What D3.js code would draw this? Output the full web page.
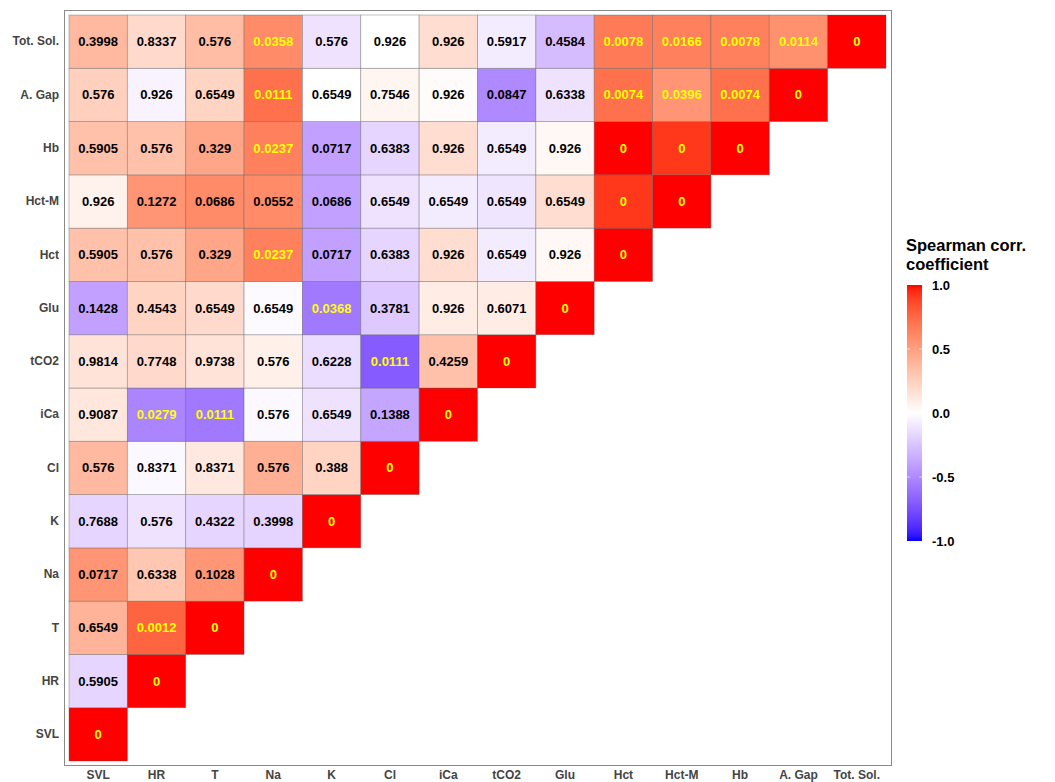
<!DOCTYPE html>
<html>
<head>
<meta charset="utf-8">
<script src="https://cdn.jsdelivr.net/npm/d3@7"></script>
<style>
  body { margin: 0; background: #fff; }
  text { font-family: "Liberation Sans", Arial, sans-serif; }
</style>
</head>
<body>
<div id="chart"></div>
<script>
// variables, bottom-left (SVL) to top-right (Tot. Sol.)
var variables = ["SVL", "HR", "T", "Na", "K", "Cl", "iCa", "tCO2", "Glu",
                 "Hct", "Hct-M", "Hb", "A. Gap", "Tot. Sol."];

// Spearman rho, row i = variable i vs variables 0..i
var rhoRows = [
  [1],
  [-0.17, 1],
  [0.40, 0.77, 1],
  [0.55, 0.30, 0.54, 1],
  [-0.17, -0.12, -0.17, -0.18, 1],
  [0.37, -0.03, 0.12, 0.42, 0.23, 1],
  [0.13, -0.52, -0.57, -0.03, -0.12, -0.38, 1],
  [0.15, 0.20, 0.15, 0.08, -0.14, -0.70, 0.33, 1],
  [-0.40, 0.23, 0.20, -0.02, -0.57, -0.23, 0.10, 0.10, 1],
  [0.33, 0.33, 0.47, 0.65, -0.40, -0.17, 0.18, -0.08, 0.04, 1],
  [0.07, 0.55, 0.60, 0.60, -0.40, -0.12, -0.08, -0.11, 0.18, 0.92, 1],
  [0.33, 0.33, 0.47, 0.65, -0.40, -0.17, 0.18, -0.08, 0.04, 1, 0.92, 1],
  [0.25, -0.05, 0.23, 0.72, 0.00, 0.05, 0.02, -0.50, -0.12, 0.72, 0.55, 0.72, 1],
  [0.37, 0.20, 0.35, 0.60, -0.12, 0.00, 0.18, -0.08, -0.28, 0.67, 0.65, 0.65, 0.57, 1]
];

// p-values printed in the cells
var pRows = [
  [0],
  [0.5905, 0],
  [0.6549, 0.0012, 0],
  [0.0717, 0.6338, 0.1028, 0],
  [0.7688, 0.576, 0.4322, 0.3998, 0],
  [0.576, 0.8371, 0.8371, 0.576, 0.388, 0],
  [0.9087, 0.0279, 0.0111, 0.576, 0.6549, 0.1388, 0],
  [0.9814, 0.7748, 0.9738, 0.576, 0.6228, 0.0111, 0.4259, 0],
  [0.1428, 0.4543, 0.6549, 0.6549, 0.0368, 0.3781, 0.926, 0.6071, 0],
  [0.5905, 0.576, 0.329, 0.0237, 0.0717, 0.6383, 0.926, 0.6549, 0.926, 0],
  [0.926, 0.1272, 0.0686, 0.0552, 0.0686, 0.6549, 0.6549, 0.6549, 0.6549, 0, 0],
  [0.5905, 0.576, 0.329, 0.0237, 0.0717, 0.6383, 0.926, 0.6549, 0.926, 0, 0, 0],
  [0.576, 0.926, 0.6549, 0.0111, 0.6549, 0.7546, 0.926, 0.0847, 0.6338, 0.0074, 0.0396, 0.0074, 0],
  [0.3998, 0.8337, 0.576, 0.0358, 0.576, 0.926, 0.926, 0.5917, 0.4584, 0.0078, 0.0166, 0.0078, 0.0114, 0]
];

var legendTicks = [1, 0.5, 0, -0.5, -1];
var legendLabels = ["1.0", "0.5", "0.0", "-0.5", "-1.0"];

var svgWidth = 1055;
var svgHeight = 782;

var svg = d3.select("#chart")
  .append("svg")
  .attr("width", svgWidth)
  .attr("height", svgHeight);

// build long table
var cells = [];
rhoRows.forEach(function(row, i) {
  row.forEach(function(r, j) {
    cells.push({ row: variables[i], col: variables[j], rho: r, p: pRows[i][j] });
  });
});

var xScale = d3.scaleBand()
  .domain(variables)
  .range([69, 886]);

var yScale = d3.scaleBand()
  .domain(variables.slice().reverse())
  .range([15, 761]);

var color = d3.scaleLinear()
  .domain([-1, 0, 1])
  .range(["blue", "white", "red"])
  .interpolate(d3.interpolateLab);

// panel border
svg.append("rect")
  .attr("x", 64.5)
  .attr("y", 10.5)
  .attr("width", 827)
  .attr("height", 755)
  .attr("fill", "none")
  .attr("stroke", "#8a8a8a")
  .attr("stroke-width", 1);

var chartGroup = svg.append("g");

chartGroup.selectAll("rect.cell")
  .data(cells)
  .enter()
  .append("rect")
  .attr("class", "cell")
  .attr("x", d => xScale(d.col))
  .attr("y", d => yScale(d.row))
  .attr("width", xScale.bandwidth())
  .attr("height", yScale.bandwidth())
  .attr("fill", d => color(d.rho))
  .attr("stroke", "rgba(90,90,90,0.45)")
  .attr("stroke-width", 0.8);

chartGroup.selectAll("text.lab")
  .data(cells)
  .enter()
  .append("text")
  .attr("class", "lab")
  .attr("x", d => xScale(d.col) + xScale.bandwidth() / 2)
  .attr("y", d => yScale(d.row) + yScale.bandwidth() / 2)
  .attr("text-anchor", "middle")
  .attr("dominant-baseline", "central")
  .style("font-size", "13px")
  .style("font-weight", "bold")
  .attr("fill", d => d.p < 0.05 ? "#ffff00" : "#000")
  .text(d => d.p);

// axes
var bottomAxis = d3.axisBottom(xScale).tickSize(0).tickPadding(0);
var leftAxis = d3.axisLeft(yScale).tickSize(0).tickPadding(0);

var gx = svg.append("g")
  .attr("transform", "translate(0, 770)")
  .call(bottomAxis);
gx.select(".domain").remove();
gx.selectAll("text")
  .attr("dy", "0.72em")
  .style("font-size", "12px")
  .style("font-weight", "bold")
  .attr("fill", "#444");

var gy = svg.append("g")
  .attr("transform", "translate(59, 0)")
  .call(leftAxis);
gy.select(".domain").remove();
gy.selectAll("text")
  .style("font-size", "12px")
  .style("font-weight", "bold")
  .attr("fill", "#444");

// legend
var legendTop = 285, legendBottom = 541, legendX = 907, legendW = 15;
var legendScale = d3.scaleLinear().domain([-1, 1]).range([legendBottom, legendTop]);

var defs = svg.append("defs");
var grad = defs.append("linearGradient")
  .attr("id", "corrGrad")
  .attr("x1", "0").attr("y1", "1")
  .attr("x2", "0").attr("y2", "0");
d3.range(0, 1.0001, 0.02).forEach(function(t) {
  grad.append("stop")
    .attr("offset", t)
    .attr("stop-color", color(-1 + 2 * t));
});

var legend = svg.append("g");

legend.append("text")
  .attr("x", 906)
  .attr("y", 251)
  .style("font-size", "16.5px")
  .style("font-weight", "bold")
  .text("Spearman corr.");
legend.append("text")
  .attr("x", 906)
  .attr("y", 270)
  .style("font-size", "16.5px")
  .style("font-weight", "bold")
  .text("coefficient");

legend.append("rect")
  .attr("x", legendX)
  .attr("y", legendTop)
  .attr("width", legendW)
  .attr("height", legendBottom - legendTop)
  .attr("fill", "url(#corrGrad)");

legend.selectAll("line.tk")
  .data(legendTicks.filter(d => Math.abs(d) < 1))
  .enter()
  .append("g")
  .each(function(d) {
    var g = d3.select(this);
    var y = legendScale(d);
    g.append("line").attr("x1", legendX).attr("x2", legendX + 3)
      .attr("y1", y).attr("y2", y).attr("stroke", "rgba(255,255,255,0.6)");
    g.append("line").attr("x1", legendX + legendW - 3).attr("x2", legendX + legendW)
      .attr("y1", y).attr("y2", y).attr("stroke", "rgba(255,255,255,0.6)");
  });

legend.selectAll("text.tick")
  .data(legendTicks)
  .enter()
  .append("text")
  .attr("class", "tick")
  .attr("x", 932)
  .attr("y", d => legendScale(d))
  .attr("dominant-baseline", "central")
  .style("font-size", "13px")
  .style("font-weight", "bold")
  .text((d, i) => legendLabels[i]);
</script>
</body>
</html>
